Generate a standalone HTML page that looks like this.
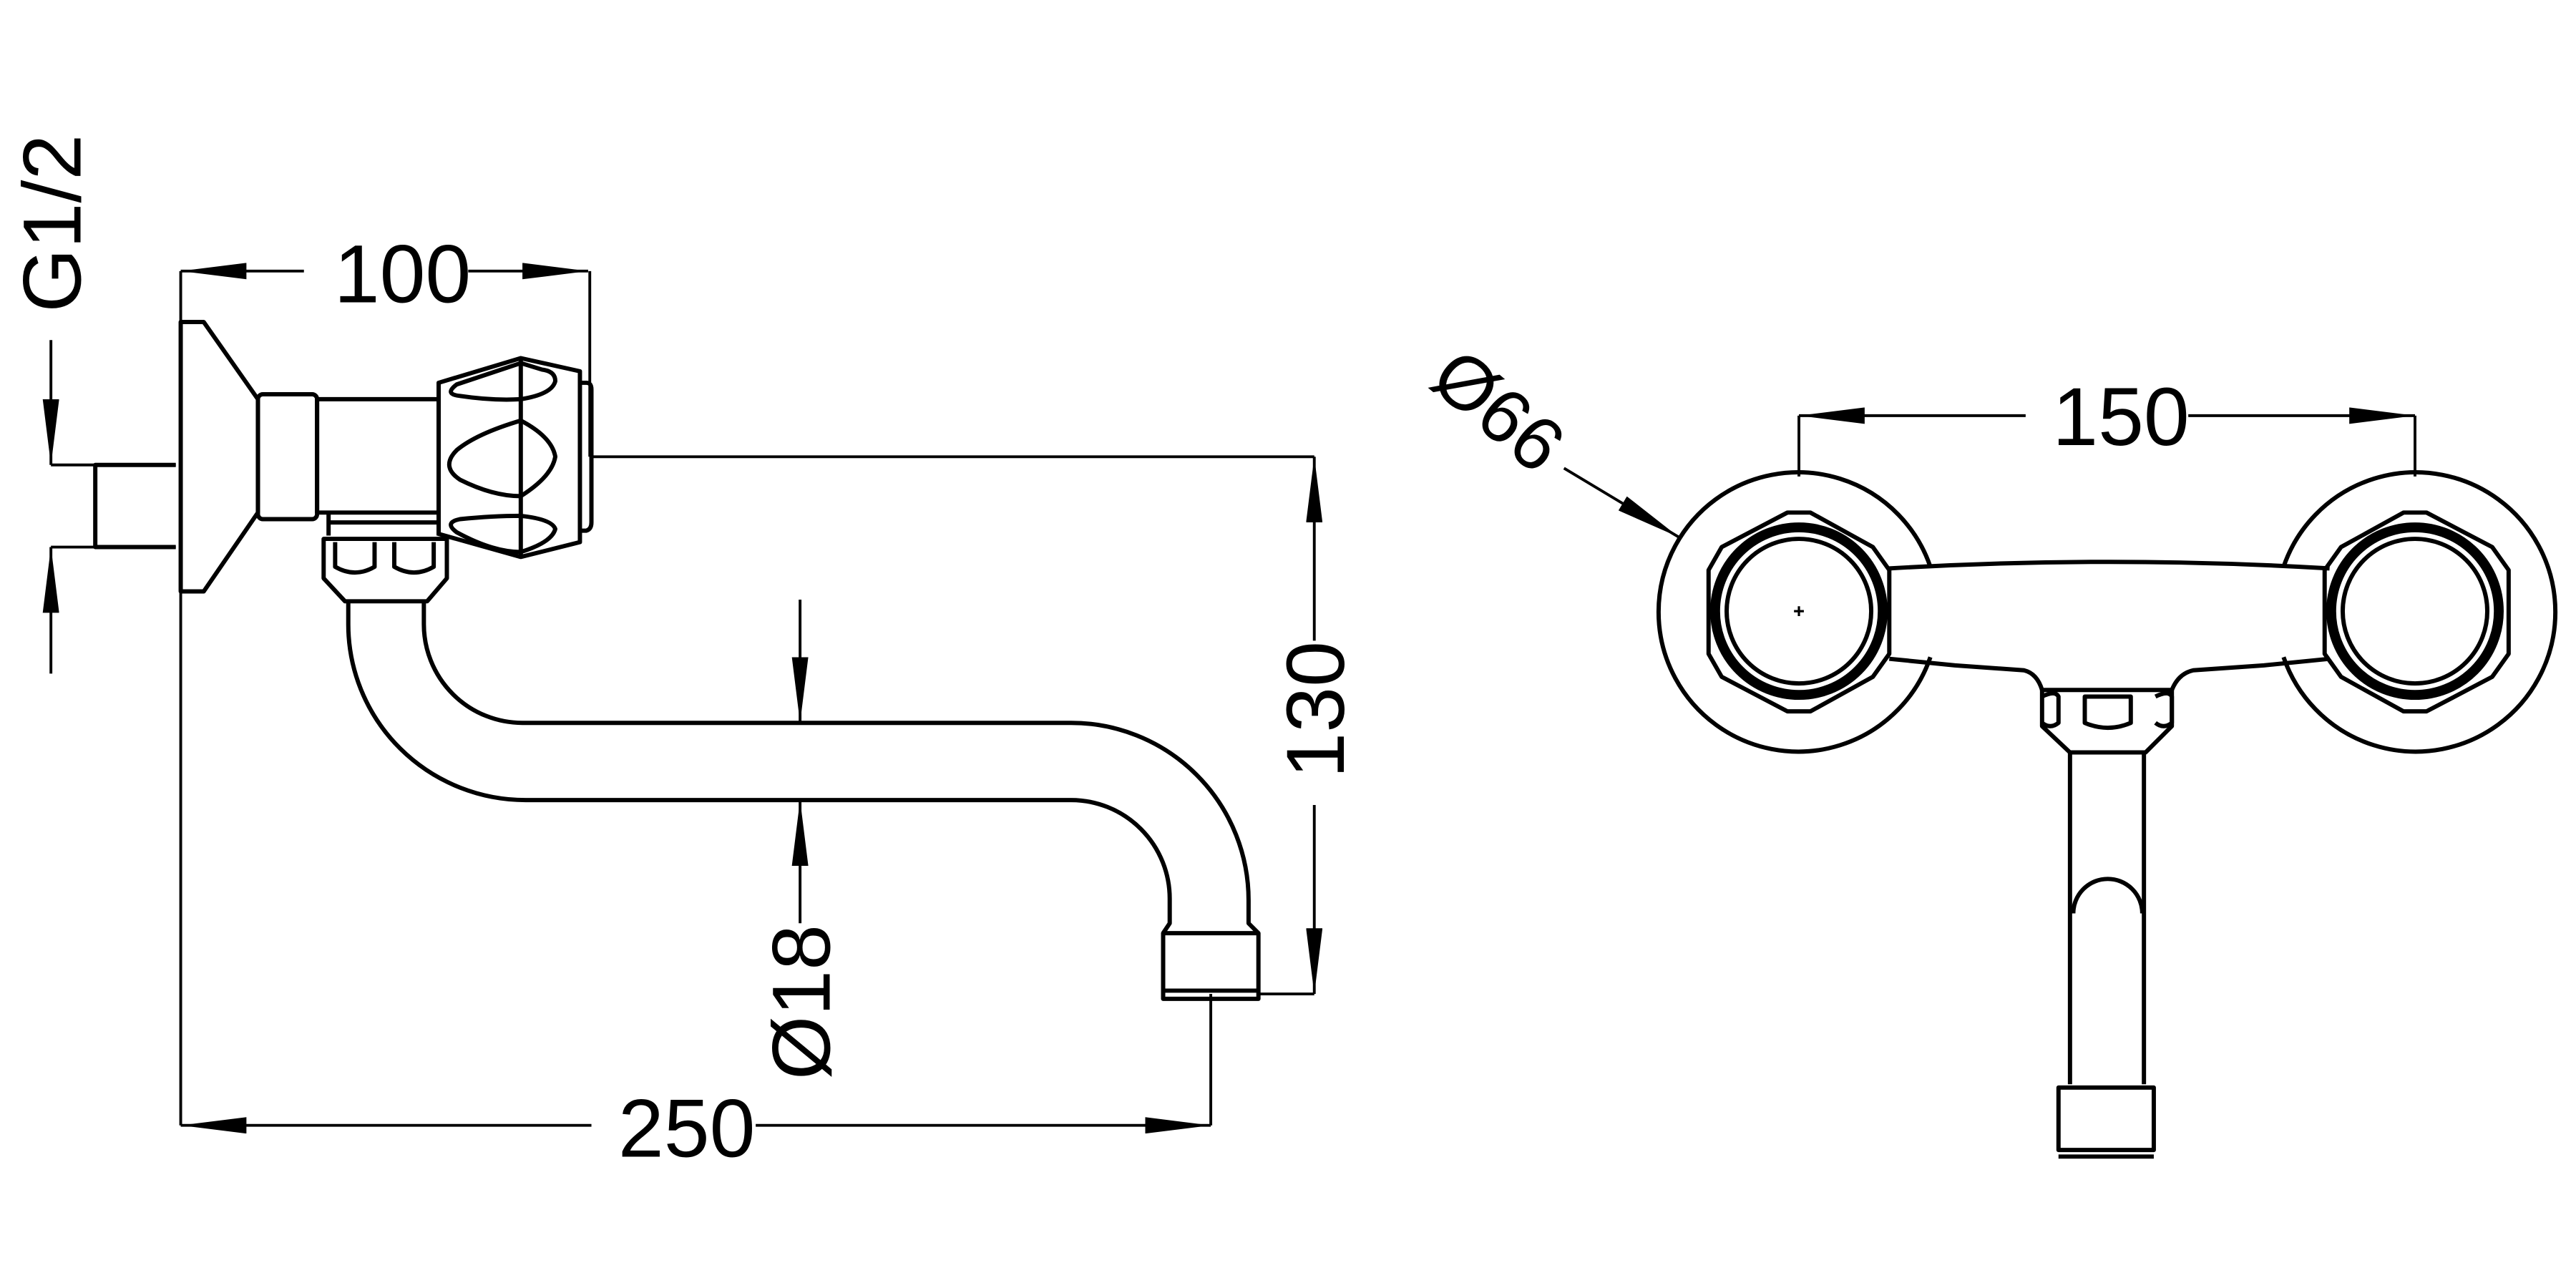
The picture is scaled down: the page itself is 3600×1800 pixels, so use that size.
<!DOCTYPE html>
<html><head><meta charset="utf-8"><style>
html,body{margin:0;padding:0;background:#fff;}
svg{display:block;}
text{font-family:"Liberation Sans",sans-serif;fill:#000;}
</style></head><body>
<svg width="3600" height="1800" viewBox="0 0 1568 784" xmlns="http://www.w3.org/2000/svg">
<defs>
<marker id="a" viewBox="0 0 40 10" refX="40" refY="5" markerWidth="40" markerHeight="10" markerUnits="userSpaceOnUse" orient="auto">
<path d="M0,0 L40,5 L0,10 Z" fill="#000"/></marker>
</defs>
<g fill="none" stroke="#000" stroke-width="2.6" stroke-linejoin="round">
<path d="M107,283 H58 V333 H107"/>
<path d="M110,196 H124 L157,243 V312 L124,360 H110 Z"/>
<rect x="157" y="240" width="36" height="76" rx="3"/>
<rect x="193" y="243" width="74" height="69"/>
<path d="M200,312 V326 M267,312 V326 M200,318 H267"/>
<path d="M267,233 L317,218 L353,226 V330 L317,339 L267,325 Z"/>
<path d="M353,233 h4 q3,0 3,4 V318 q0,4 -3,5 h-4"/>
<path d="M317,218 V339"/>
<path d="M317,221 L278,234 Q270,240 280,241 Q300,244 317,243 Q336,240 338,232 Q338,226 330,225 Z"/>
<path d="M317,256 Q290,264 278,274 Q268,284 280,292 Q300,302 317,302 Q336,290 338,278 Q336,266 317,256 Z"/>
<path d="M317,314 Q300,314 280,316 Q270,318 278,324 Q300,336 317,336 Q336,330 338,322 Q336,316 317,314 Z"/>
<path d="M197,328 H272 V352 L260,366 H210 L197,352 Z"/>
<path d="M204,330 V345 Q216,352 228,345 V330 M240,330 V345 Q252,352 264,345 V330"/>
<path d="M212,366 V380 A108,107 0 0 0 320,487 H652 A60,60 0 0 1 712,547 V562 L708,568"/>
<path d="M258,366 V380 A60,60 0 0 0 318,440 H652 A108,108 0 0 1 760,548 V562 L766,568"/>
<rect x="708" y="568" width="58" height="40"/>
<path d="M708,603 H766"/>
</g>
<g fill="none" stroke="#000" stroke-width="1.7">
<path d="M110,165 V685 M359,165 V278 M360,278 H800 M766,605 H800 M737,605 V685"/>
<path d="M185,165 L110,165" marker-end="url(#a)"/>
<path d="M285,165 L358,165" marker-end="url(#a)"/>
<path d="M360,685 L110,685" marker-end="url(#a)"/>
<path d="M460,685 L737,685" marker-end="url(#a)"/>
<path d="M800,390 L800,278" marker-end="url(#a)"/>
<path d="M800,490 L800,605" marker-end="url(#a)"/>
<path d="M487,365 L487,440" marker-end="url(#a)"/>
<path d="M487,562 L487,487" marker-end="url(#a)"/>
<path d="M31,283 H107 M31,333 H107"/>
<path d="M31,207 L31,283" marker-end="url(#a)"/>
<path d="M31,410 L31,333" marker-end="url(#a)"/>
<path d="M1095,253 V290 M1470,253 V290"/>
<path d="M1233,253 L1095,253" marker-end="url(#a)"/>
<path d="M1332,253 L1470,253" marker-end="url(#a)"/>
<path d="M952,285 L1022,327" marker-end="url(#a)"/>
</g>
<text x="245" y="184" font-size="50" text-anchor="middle">100</text>
<text x="418" y="704" font-size="50" text-anchor="middle">250</text>
<text x="1291" y="271" font-size="50" text-anchor="middle">150</text>
<text transform="translate(818,432) rotate(-90)" font-size="50" text-anchor="middle">130</text>
<text transform="translate(505,610) rotate(-90)" font-size="50" text-anchor="middle">Ø18</text>
<text transform="translate(49,136) rotate(-90)" font-size="50" text-anchor="middle">G1/2</text>
<text transform="translate(902,262) rotate(40)" font-size="46" text-anchor="middle">Ø66</text>

<g fill="none" stroke="#000" stroke-width="2.6" stroke-linejoin="round">
<path d="M1175,345 A85,85 0 1 0 1175,400"/>
<path d="M1390,345 A85,85 0 1 1 1390,400"/>
<path d="M1150,346 Q1284,338 1418,346"/>
<path d="M1150,401 L1190,405 L1232,408 Q1240,410 1243,420 M1418,401 L1378,405 L1335,408 Q1326,410 1322,420"/>
<path d="M1088,312 H1102 L1140,333 L1150,347 V398 L1140,412 L1102,433 H1088 L1048,412 L1040,398 V347 L1048,333 Z"/>
<path d="M1463,312 H1477 L1517,333 L1527,347 V398 L1517,412 L1477,433 H1463 L1425,412 L1415,398 V347 L1425,333 Z"/>
<path d="M1243,420 H1322 V442 L1306,458 H1260 L1243,442 Z"/>
<path d="M1243,424 q8,-4 10,0 V440 q-5,4 -10,0 M1312,424 q8,-4 10,0 V440 q-5,4 -10,0 M1269,424 h28 V440 q-14,6 -28,0 Z"/>
<path d="M1260,458 V660 M1305,458 V660"/>
<path d="M1262,556 A21,21 0 0 1 1304,556"/>
<rect x="1253" y="662" width="58" height="38"/>
<path d="M1253,704 H1311"/>
</g>
<g fill="none" stroke="#000" stroke-width="6">
<circle cx="1095" cy="372" r="51"/>
<circle cx="1470" cy="372" r="51"/>
</g>
<g fill="none" stroke="#000" stroke-width="2.6">
<circle cx="1095" cy="372" r="44"/>
<circle cx="1470" cy="372" r="44"/>
</g>
<path d="M1092,372 h6 M1095,369 v6" stroke="#000" stroke-width="1.4"/>
</svg>
</body></html>
